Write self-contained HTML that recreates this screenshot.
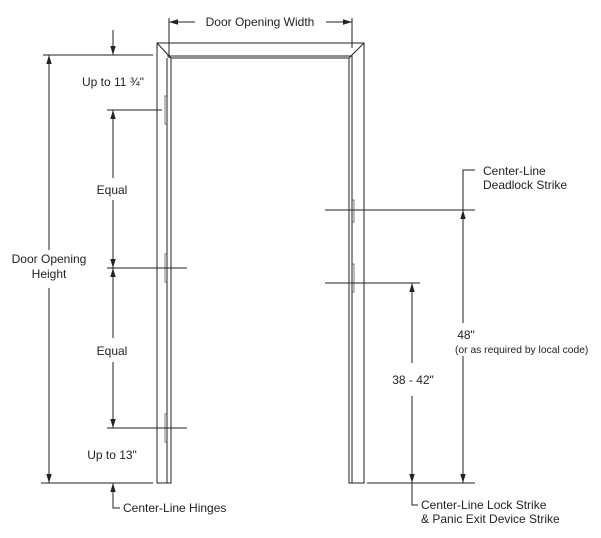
<!DOCTYPE html>
<html><head><style>
body{margin:0;background:#fff}
svg{display:block}
text{font-family:"Liberation Sans",sans-serif;font-size:12px;fill:#222}
</style></head><body>
<svg width="601" height="538" viewBox="0 0 601 538" xmlns="http://www.w3.org/2000/svg">
<defs>
<marker id="a" viewBox="0 0 10 10" refX="10" refY="5" markerWidth="9" markerHeight="9" orient="auto-start-reverse" markerUnits="userSpaceOnUse"><path d="M0,2 L10,5 L0,8 z" fill="#222"/></marker>
</defs>
<g stroke="#222" stroke-width="1" fill="none">
<path d="M157,43 H364 V483 H349 V58 H171 V483 H157 Z"/>
<path d="M167,58 V483 M167,56 H352 V483"/>
<path d="M157,43 L171,58 M364,43 L349,58"/>
</g>
<g stroke="#444" stroke-width="0.7" fill="none">
<path d="M167,96 H165 V124 H167 M167,254 H165 V282 H167 M167,414 H165 V442 H167"/>
<path d="M352,200 H354 V222 H352 M352,264 H354 V292 H352"/>
</g>
<g stroke="#222" stroke-width="1" fill="none">
<path d="M169,18 V58 M352,18 V48"/>
<path d="M195,22 H169" marker-end="url(#a)"/>
<path d="M326,22 H352" marker-end="url(#a)"/>
<path d="M43,55 H153 M107,110 H162 M107,268 H187 M107,428 H187 M41,483 H153"/>
<path d="M113,30 V55" marker-end="url(#a)"/>
<path d="M49,55 V250" marker-start="url(#a)"/>
<path d="M49,288 V483" marker-end="url(#a)"/>
<path d="M113,110 V178" marker-start="url(#a)"/>
<path d="M113,200 V268" marker-end="url(#a)"/>
<path d="M113,268 V338" marker-start="url(#a)"/>
<path d="M113,362 V428" marker-end="url(#a)"/>
<path d="M113,505 V483" marker-end="url(#a)"/>
<path d="M113,505 V508 H120"/>
<path d="M325,210 H475 M325,283 H420 M367,483 H475"/>
<path d="M463,210 V323" marker-start="url(#a)"/>
<path d="M463,356 V483" marker-end="url(#a)"/>
<path d="M463,210 V170 H475"/>
<path d="M412,283 V363" marker-start="url(#a)"/>
<path d="M412,396 V483" marker-end="url(#a)"/>
<path d="M412,483 V505 H418"/>
</g>
<text x="260" y="26" text-anchor="middle">Door Opening Width</text>
<text x="113" y="86" text-anchor="middle">Up to 11 ¾"</text>
<text x="49" y="263" text-anchor="middle">Door Opening</text>
<text x="49" y="278" text-anchor="middle">Height</text>
<text x="112" y="194" text-anchor="middle">Equal</text>
<text x="112" y="355" text-anchor="middle">Equal</text>
<text x="112" y="459" text-anchor="middle">Up to 13"</text>
<text x="123" y="512">Center-Line Hinges</text>
<text x="483" y="175">Center-Line</text>
<text x="483" y="189">Deadlock Strike</text>
<text x="466" y="339" text-anchor="middle">48"</text>
<text x="455" y="353" style="font-size:10.3px">(or as required by local code)</text>
<text x="413" y="384" text-anchor="middle">38 - 42"</text>
<text x="421" y="509">Center-Line Lock Strike</text>
<text x="421" y="523">&amp; Panic Exit Device Strike</text>
</svg>
</body></html>
